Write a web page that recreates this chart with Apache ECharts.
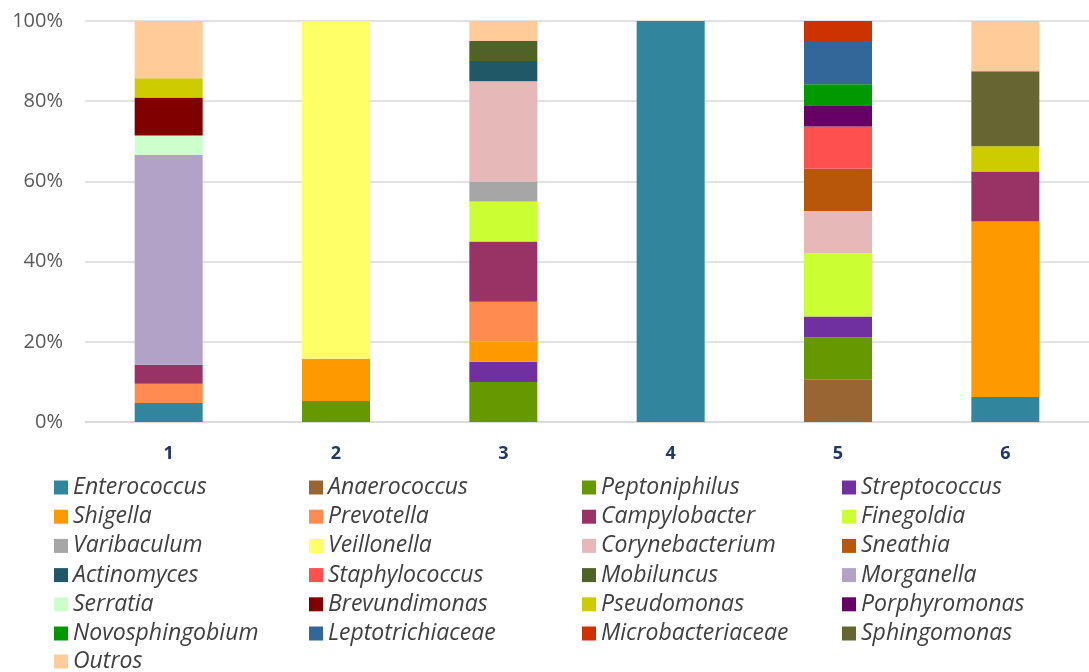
<!DOCTYPE html>
<html>
<head>
<meta charset="utf-8">
<script src="https://cdn.jsdelivr.net/npm/echarts@6/dist/echarts.min.js"></script>
<style>
  html, body { margin: 0; padding: 0; background: #ffffff; }
  #chart { width: 1089px; height: 672px; }
</style>
</head>
<body>
<div id="chart"></div>
<script>
// Sample labels along the x axis
const categories = ['1', '2', '3', '4', '5', '6'];

// Y axis tick labels (percent)
const yTicks = [0, 20, 40, 60, 80, 100];

// Relative abundance (%) of each genus per sample, stacked bottom to top in this order
const genera = [
  'Enterococcus', 'Anaerococcus', 'Peptoniphilus', 'Streptococcus',
  'Shigella', 'Prevotella', 'Campylobacter', 'Finegoldia',
  'Varibaculum', 'Veillonella', 'Corynebacterium', 'Sneathia',
  'Actinomyces', 'Staphylococcus', 'Mobiluncus', 'Morganella',
  'Serratia', 'Brevundimonas', 'Pseudomonas', 'Porphyromonas',
  'Novosphingobium', 'Leptotrichiaceae', 'Microbacteriaceae', 'Sphingomonas',
  'Outros'
];

const Enterococcus      = [4.76, 0, 0, 100, 0, 6.25];
const Anaerococcus      = [0, 0, 0, 0, 10.53, 0];
const Peptoniphilus     = [0, 5.26, 10, 0, 10.53, 0];
const Streptococcus     = [0, 0, 5, 0, 5.26, 0];
const Shigella          = [0, 10.53, 5, 0, 0, 43.75];
const Prevotella        = [4.76, 0, 10, 0, 0, 0];
const Campylobacter     = [4.76, 0, 15, 0, 0, 12.5];
const Finegoldia        = [0, 0, 10, 0, 15.79, 0];
const Varibaculum       = [0, 0, 5, 0, 0, 0];
const Veillonella       = [0, 84.21, 0, 0, 0, 0];
const Corynebacterium   = [0, 0, 25, 0, 10.53, 0];
const Sneathia          = [0, 0, 0, 0, 10.53, 0];
const Actinomyces       = [0, 0, 5, 0, 0, 0];
const Staphylococcus    = [0, 0, 0, 0, 10.53, 0];
const Mobiluncus        = [0, 0, 5, 0, 0, 0];
const Morganella        = [52.38, 0, 0, 0, 0, 0];
const Serratia          = [4.76, 0, 0, 0, 0, 0];
const Brevundimonas     = [9.52, 0, 0, 0, 0, 0];
const Pseudomonas       = [4.76, 0, 0, 0, 0, 6.25];
const Porphyromonas     = [0, 0, 0, 0, 5.26, 0];
const Novosphingobium   = [0, 0, 0, 0, 5.26, 0];
const Leptotrichiaceae  = [0, 0, 0, 0, 10.53, 0];
const Microbacteriaceae = [0, 0, 0, 0, 5.26, 0];
const Sphingomonas      = [0, 0, 0, 0, 0, 18.75];
const Outros            = [14.29, 0, 5, 0, 0, 12.5];

const values = [
  Enterococcus, Anaerococcus, Peptoniphilus, Streptococcus,
  Shigella, Prevotella, Campylobacter, Finegoldia,
  Varibaculum, Veillonella, Corynebacterium, Sneathia,
  Actinomyces, Staphylococcus, Mobiluncus, Morganella,
  Serratia, Brevundimonas, Pseudomonas, Porphyromonas,
  Novosphingobium, Leptotrichiaceae, Microbacteriaceae, Sphingomonas,
  Outros
];

const colors = [
  '#31859C', '#996633', '#669900', '#7030A0',
  '#FF9900', '#FF8B50', '#993366', '#CCFF33',
  '#A6A6A6', '#FFFF66', '#E6B9B8', '#B8560A',
  '#215868', '#FF5050', '#4F6228', '#B3A2C7',
  '#CCFFCC', '#800000', '#CCCC00', '#660066',
  '#009900', '#336699', '#CC3300', '#666633',
  '#FFCC99'
];

const series = genera.map((name, i) => ({
  name: name,
  type: 'bar',
  stack: 'total',
  barWidth: 68,
  itemStyle: { color: colors[i] },
  emphasis: { disabled: true },
  data: values[i]
}));

// Legend laid out as 4 columns filled row by row; the lone 7th row gets its own block
const ROW_TOP = 476;
const ROW_STEP = 29;
const legendX = [54, 309, 582, 842];
const legendBlock = (names, left, top) => ({
  data: names,
  orient: 'vertical',
  left: left,
  top: top,
  padding: 0,
  itemWidth: 14,
  itemHeight: 14,
  itemGap: 6.2,
  icon: 'rect',
  selectedMode: false,
  textStyle: {
    fontFamily: 'Open Sans',
    fontStyle: 'italic',
    fontSize: 23,
    lineHeight: 22,
    height: 22,
    color: '#404040'
  }
});
const fullRows = genera.slice(0, 24);
const legends = [0, 1, 2, 3].map(c =>
  legendBlock(fullRows.filter((_, i) => i % 4 === c), legendX[c], ROW_TOP)
);
legends.push(legendBlock(genera.slice(24), legendX[0], ROW_TOP + 6 * ROW_STEP));

const chart = echarts.init(document.getElementById('chart'), null, { renderer: 'canvas' });
chart.setOption({
  animation: false,
  color: colors,
  grid: { left: 85, top: 21, right: -6, height: 401, containLabel: false },
  legend: legends,
  xAxis: {
    type: 'category',
    data: categories,
    axisLine: { show: true, lineStyle: { color: '#D9D9D9', width: 1.5 } },
    axisTick: { show: false },
    axisLabel: {
      margin: 23,
      fontFamily: 'Open Sans',
      fontWeight: 'bold',
      fontSize: 18,
      color: '#1F3864'
    }
  },
  yAxis: {
    type: 'value',
    min: 0,
    max: 100,
    interval: 20,
    axisLine: { show: false },
    axisTick: { show: false },
    splitLine: { lineStyle: { color: '#D9D9D9', width: 1.5 } },
    axisLabel: {
      margin: 22,
      fontFamily: 'Open Sans',
      fontSize: 20,
      color: '#595959',
      formatter: v => yTicks.includes(v) ? v + '%' : ''
    }
  },
  series: series
});
</script>
</body>
</html>
